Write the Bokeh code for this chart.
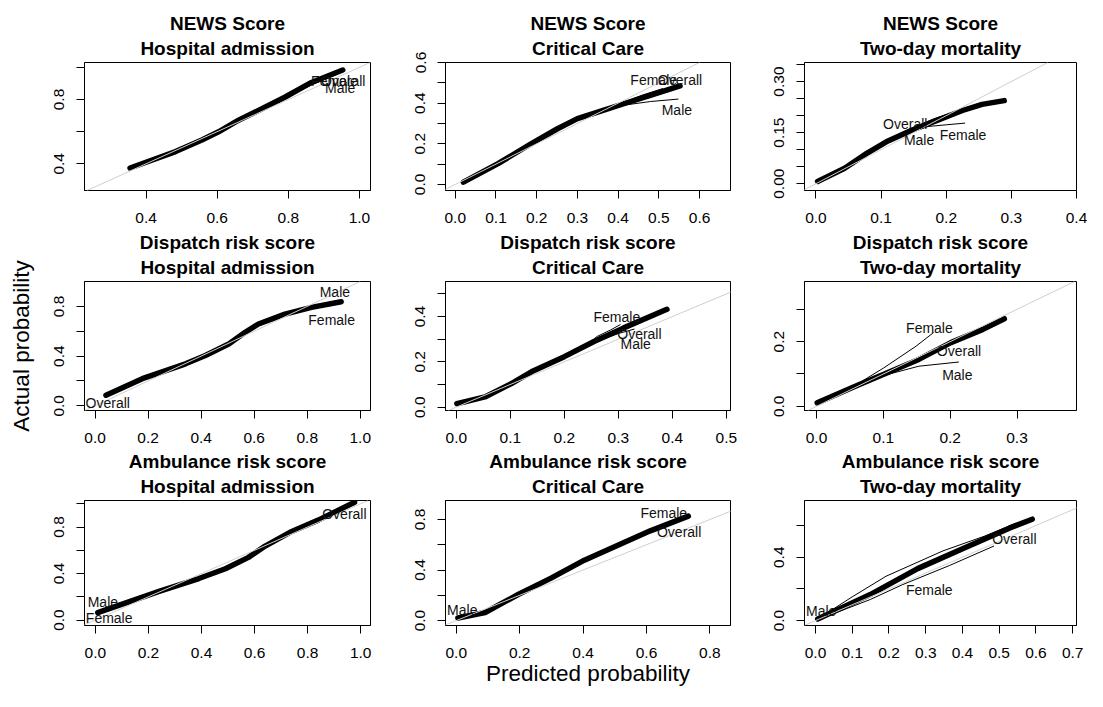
from bokeh.plotting import figure
from bokeh.models import FixedTicker, Range1d, Slope, Title, Label
from bokeh.layouts import row, column
from bokeh.embed import file_html
from bokeh.resources import INLINE

FONT = "Liberation Sans"

scores = ["NEWS Score", "Dispatch risk score", "Ambulance risk score"]
outcomes = ["Hospital admission", "Critical Care", "Two-day mortality"]
group_names = ["Overall", "Male", "Female"]

# ---------------- data ----------------
# NEWS / Hospital admission
news_adm_overall_x = [0.355, 0.483, 0.557, 0.604, 0.66, 0.716, 0.79, 0.865, 0.953]
news_adm_overall_y = [0.374, 0.476, 0.548, 0.599, 0.671, 0.732, 0.814, 0.906, 0.983]
news_adm_male_x = [0.36, 0.48, 0.56, 0.66, 0.79, 0.87, 0.94]
news_adm_male_y = [0.372, 0.47, 0.545, 0.668, 0.81, 0.895, 0.96]
news_adm_female_x = [0.36, 0.48, 0.56, 0.66, 0.79, 0.87, 0.95]
news_adm_female_y = [0.378, 0.48, 0.552, 0.675, 0.818, 0.91, 0.98]
news_adm_label_x = [0.892, 0.903, 0.864]
news_adm_label_y = [0.917, 0.874, 0.917]

# NEWS / Critical Care
news_cc_overall_x = [0.02, 0.105, 0.186, 0.251, 0.3, 0.365, 0.414, 0.479, 0.552]
news_cc_overall_y = [0.011, 0.102, 0.2, 0.274, 0.324, 0.365, 0.397, 0.438, 0.485]
news_cc_male_x = [0.02, 0.105, 0.186, 0.251, 0.3, 0.365, 0.414, 0.48, 0.548]
news_cc_male_y = [0.01, 0.1, 0.198, 0.272, 0.322, 0.362, 0.39, 0.408, 0.42]
news_cc_female_x = [0.02, 0.105, 0.186, 0.251, 0.3, 0.365, 0.414, 0.46, 0.51]
news_cc_female_y = [0.012, 0.104, 0.202, 0.276, 0.326, 0.368, 0.405, 0.44, 0.472]
news_cc_label_x = [0.4976, 0.507, 0.43]
news_cc_label_y = [0.512, 0.365, 0.512]

# NEWS / Two-day mortality
news_mort_overall_x = [0.0025, 0.044, 0.078, 0.108, 0.147, 0.186, 0.225, 0.255, 0.289]
news_mort_overall_y = [0.0067, 0.0456, 0.089, 0.123, 0.157, 0.186, 0.215, 0.233, 0.244]
news_mort_male_x = [0.003, 0.044, 0.078, 0.108, 0.147, 0.18, 0.206]
news_mort_male_y = [0.008, 0.047, 0.091, 0.126, 0.163, 0.19, 0.207]
news_mort_female_x = [0.003, 0.044, 0.078, 0.108, 0.147, 0.172, 0.2, 0.229]
news_mort_female_y = [0.006, 0.046, 0.089, 0.123, 0.157, 0.168, 0.173, 0.178]
news_mort_label_x = [0.103, 0.135, 0.19]
news_mort_label_y = [0.176, 0.128, 0.144]

# Dispatch / Hospital admission
disp_adm_overall_x = [0.041, 0.178, 0.341, 0.416, 0.504, 0.566, 0.616, 0.716, 0.816, 0.928]
disp_adm_overall_y = [0.085, 0.218, 0.338, 0.405, 0.498, 0.592, 0.658, 0.738, 0.792, 0.837]
disp_adm_male_x = [0.041, 0.178, 0.341, 0.416, 0.504, 0.566, 0.616, 0.716, 0.816, 0.92]
disp_adm_male_y = [0.087, 0.22, 0.34, 0.407, 0.5, 0.595, 0.662, 0.742, 0.8, 0.85]
disp_adm_female_x = [0.041, 0.178, 0.341, 0.416, 0.504, 0.566, 0.616, 0.716, 0.816, 0.92]
disp_adm_female_y = [0.083, 0.216, 0.336, 0.403, 0.496, 0.589, 0.655, 0.734, 0.785, 0.825]
disp_adm_label_x = [-0.036, 0.847, 0.804]
disp_adm_label_y = [0.026, 0.917, 0.693]

# Dispatch / Critical Care
disp_cc_overall_x = [0.001, 0.053, 0.102, 0.139, 0.2, 0.255, 0.31, 0.39]
disp_cc_overall_y = [0.015, 0.045, 0.104, 0.156, 0.223, 0.29, 0.35, 0.432]
disp_cc_male_x = [0.001, 0.053, 0.102, 0.139, 0.2, 0.255, 0.3, 0.33]
disp_cc_male_y = [0.014, 0.044, 0.102, 0.154, 0.221, 0.285, 0.325, 0.345]
disp_cc_female_x = [0.001, 0.053, 0.102, 0.139, 0.2, 0.235, 0.261, 0.285, 0.304]
disp_cc_female_y = [0.016, 0.047, 0.106, 0.158, 0.225, 0.262, 0.3125, 0.34, 0.365]
disp_cc_label_x = [0.298, 0.304, 0.254]
disp_cc_label_y = [0.325, 0.28, 0.397]

# Dispatch / Two-day mortality
disp_mort_overall_x = [0.001, 0.058, 0.106, 0.153, 0.201, 0.249, 0.281]
disp_mort_overall_y = [0.0106, 0.062, 0.104, 0.145, 0.197, 0.238, 0.271]
disp_mort_male_x = [0.001, 0.058, 0.1, 0.153, 0.213]
disp_mort_male_y = [0.01, 0.06, 0.095, 0.124, 0.137]
disp_mort_female_x = [0.001, 0.058, 0.1, 0.149, 0.175]
disp_mort_female_y = [0.01, 0.065, 0.118, 0.186, 0.228]
disp_mort_label_x = [0.18, 0.188, 0.134]
disp_mort_label_y = [0.171, 0.098, 0.241]

# Ambulance / Hospital admission
amb_adm_overall_x = [0.009, 0.115, 0.24, 0.39, 0.49, 0.577, 0.64, 0.74, 0.84, 0.977]
amb_adm_overall_y = [0.064, 0.148, 0.246, 0.357, 0.441, 0.539, 0.636, 0.762, 0.859, 1.013]
amb_adm_male_x = [0.009, 0.115, 0.24, 0.39, 0.49, 0.577, 0.64, 0.74, 0.84, 0.97]
amb_adm_male_y = [0.066, 0.15, 0.248, 0.36, 0.444, 0.542, 0.64, 0.766, 0.862, 1.01]
amb_adm_female_x = [0.009, 0.115, 0.24, 0.39, 0.49, 0.577, 0.64, 0.74, 0.84, 0.97]
amb_adm_female_y = [0.062, 0.146, 0.244, 0.354, 0.438, 0.536, 0.632, 0.758, 0.856, 1.0]
amb_adm_label_x = [0.855, -0.029, -0.036]
amb_adm_label_y = [0.915, 0.156, 0.02]

# Ambulance / Critical Care
amb_cc_overall_x = [0.005, 0.091, 0.195, 0.299, 0.404, 0.508, 0.612, 0.732]
amb_cc_overall_y = [0.02, 0.064, 0.206, 0.336, 0.478, 0.594, 0.71, 0.826]
amb_cc_male_x = [0.005, 0.091, 0.195, 0.299, 0.404, 0.508, 0.612, 0.72]
amb_cc_male_y = [0.022, 0.068, 0.208, 0.338, 0.48, 0.596, 0.712, 0.815]
amb_cc_female_x = [0.005, 0.091, 0.195, 0.299, 0.404, 0.508, 0.612, 0.725]
amb_cc_female_y = [0.018, 0.06, 0.203, 0.333, 0.475, 0.59, 0.705, 0.83]
amb_cc_label_x = [0.633, -0.029, 0.581]
amb_cc_label_y = [0.702, 0.082, 0.853]

# Ambulance / Two-day mortality
amb_mort_overall_x = [0.006, 0.149, 0.278, 0.408, 0.529, 0.59]
amb_mort_overall_y = [0.01, 0.164, 0.328, 0.461, 0.585, 0.64]
amb_mort_male_x = [0.006, 0.1, 0.192, 0.347, 0.46, 0.546]
amb_mort_male_y = [0.01, 0.15, 0.28, 0.44, 0.533, 0.615]
amb_mort_female_x = [0.006, 0.149, 0.235, 0.365, 0.486]
amb_mort_female_y = [0.005, 0.133, 0.225, 0.348, 0.471]
amb_mort_label_x = [0.481, -0.026, 0.246]
amb_mort_label_y = [0.513, 0.062, 0.195]

# ---------------- ticks & tick labels ----------------
news_adm_xticks = [0.4, 0.6, 0.8, 1.0]
news_adm_yticks = [0.4, 0.6, 0.8, 1.0]
news_adm_ylabels = ["0.4", "", "0.8", ""]
news_cc_xticks = [0.0, 0.1, 0.2, 0.3, 0.4, 0.5, 0.6]
news_cc_yticks = [0.0, 0.1, 0.2, 0.3, 0.4, 0.5, 0.6]
news_cc_ylabels = ["0.0", "", "0.2", "", "0.4", "", "0.6"]
news_mort_xticks = [0.0, 0.1, 0.2, 0.3, 0.4]
news_mort_yticks = [0.0, 0.05, 0.10, 0.15, 0.20, 0.25, 0.30, 0.35]
news_mort_ylabels = ["0.00", "", "", "0.15", "", "", "0.30", ""]
disp_adm_xticks = [0.0, 0.2, 0.4, 0.6, 0.8, 1.0]
disp_adm_yticks = [0.0, 0.2, 0.4, 0.6, 0.8]
disp_adm_ylabels = ["0.0", "", "0.4", "", "0.8"]
disp_cc_xticks = [0.0, 0.1, 0.2, 0.3, 0.4, 0.5]
disp_cc_yticks = [0.0, 0.1, 0.2, 0.3, 0.4, 0.5]
disp_cc_ylabels = ["0.0", "", "0.2", "", "0.4", ""]
disp_mort_xticks = [0.0, 0.1, 0.2, 0.3]
disp_mort_yticks = [0.0, 0.1, 0.2, 0.3]
disp_mort_ylabels = ["0.0", "", "0.2", ""]
amb_adm_xticks = [0.0, 0.2, 0.4, 0.6, 0.8, 1.0]
amb_adm_yticks = [0.0, 0.2, 0.4, 0.6, 0.8, 1.0]
amb_adm_ylabels = ["0.0", "", "0.4", "", "0.8", ""]
amb_cc_xticks = [0.0, 0.2, 0.4, 0.6, 0.8]
amb_cc_yticks = [0.0, 0.2, 0.4, 0.6, 0.8]
amb_cc_ylabels = ["0.0", "", "0.4", "", "0.8"]
amb_mort_xticks = [0.0, 0.1, 0.2, 0.3, 0.4, 0.5, 0.6, 0.7]
amb_mort_yticks = [0.0, 0.2, 0.4, 0.6]
amb_mort_ylabels = ["0.0", "", "0.4", ""]

g = globals()
keys = [["news_adm", "news_cc", "news_mort"],
        ["disp_adm", "disp_cc", "disp_mort"],
        ["amb_adm", "amb_cc", "amb_mort"]]

# axis extents (layout)
x_ext = {"news_adm": (0.227, 1.031), "news_cc": (-0.024, 0.676), "news_mort": (-0.0176, 0.4),
         "disp_adm": (-0.04, 1.0386), "disp_cc": (-0.02, 0.5077), "disp_mort": (-0.018, 0.389),
         "amb_adm": (-0.041, 1.037), "amb_cc": (-0.034, 0.865), "amb_mort": (-0.03, 0.7104)}
y_ext = {"news_adm": (0.234, 1.03), "news_cc": (-0.03, 0.60), "news_mort": (-0.02, 0.356),
         "disp_adm": (-0.0376, 1.0), "disp_cc": (-0.015, 0.555), "disp_mort": (-0.013, 0.386),
         "amb_adm": (-0.047, 1.028), "amb_cc": (-0.039, 0.95), "amb_mort": (-0.031, 0.758)}

col_w = [410, 359, 318]
col_bl = [84, 35, 35]
col_br = [40, 39, 11]
row_h = [230, 220, 241]
row_bt = [62, 51, 50]
row_bb = [40, 40, 66]


def fmt_x(v):
    return "%.1f" % v


rows = []
for r in range(3):
    figs = []
    for c in range(3):
        k = keys[r][c]
        p = figure(width=col_w[c], height=row_h[r], output_backend="svg",
                   toolbar_location=None, tools="",
                   x_range=Range1d(*x_ext[k]), y_range=Range1d(*y_ext[k]),
                   min_border_left=col_bl[c], min_border_right=col_br[c],
                   min_border_top=row_bt[r], min_border_bottom=row_bb[r])
        p.outline_line_color = "black"
        p.outline_line_width = 1
        p.grid.visible = False
        p.background_fill_color = "white"
        p.border_fill_color = "white"

        t2 = Title(text=outcomes[c], align="center", text_font=FONT,
                   text_font_size="19px", text_font_style="bold", text_color="black",
                   standoff=7)
        t1 = Title(text=scores[r], align="center", text_font=FONT,
                   text_font_size="19px", text_font_style="bold", text_color="black",
                   standoff=-3)
        p.add_layout(t2, "above")
        p.add_layout(t1, "above")

        xt = g[k + "_xticks"]
        yt = g[k + "_yticks"]
        yl = g[k + "_ylabels"]
        p.xaxis.ticker = FixedTicker(ticks=xt, minor_ticks=[])
        p.yaxis.ticker = FixedTicker(ticks=yt, minor_ticks=[])
        p.xaxis.major_label_overrides = {v: fmt_x(v) for v in xt}
        p.yaxis.major_label_overrides = {v: s for v, s in zip(yt, yl)}
        for ax in (p.xaxis, p.yaxis):
            ax.major_tick_in = 0
            ax.major_tick_out = 8
            ax.minor_tick_in = 0
            ax.minor_tick_out = 0
            ax.axis_line_color = "black"
            ax.major_tick_line_color = "black"
            ax.major_label_text_font = FONT
            ax.major_label_text_font_size = "15.5px"
            ax.major_label_text_color = "black"
            ax.axis_label_text_font = FONT
            ax.axis_label_text_font_size = "22.5px"
            ax.axis_label_text_font_style = "normal"
            ax.axis_label_text_color = "black"
        p.xaxis.major_label_standoff = 14
        p.yaxis.major_label_standoff = 12
        p.yaxis.major_label_orientation = "vertical"

        if r == 1 and c == 0:
            p.yaxis.axis_label = "Actual probability"
            p.yaxis.axis_label_standoff = 18
        if r == 2 and c == 1:
            p.xaxis.axis_label = "Predicted probability"
            p.xaxis.axis_label_standoff = 0

        p.add_layout(Slope(gradient=1, y_intercept=0, line_color="#cfcfcf", line_width=1))

        p.line(g[k + "_overall_x"], g[k + "_overall_y"], line_color="black",
               line_width=5.5, line_cap="round", line_join="round")
        p.line(g[k + "_male_x"], g[k + "_male_y"], line_color="black", line_width=1)
        p.line(g[k + "_female_x"], g[k + "_female_y"], line_color="black", line_width=1)

        lx = g[k + "_label_x"]
        ly = g[k + "_label_y"]
        for name, xx, yy in zip(group_names, lx, ly):
            p.add_layout(Label(x=xx, y=yy, text=name, text_font=FONT,
                               text_font_size="14px", text_color="#111111",
                               text_align="left", text_baseline="middle"))
        figs.append(p)
    rows.append(row(*figs))

layout = column(*rows)
open("out.html", "w").write(file_html(layout, INLINE))
